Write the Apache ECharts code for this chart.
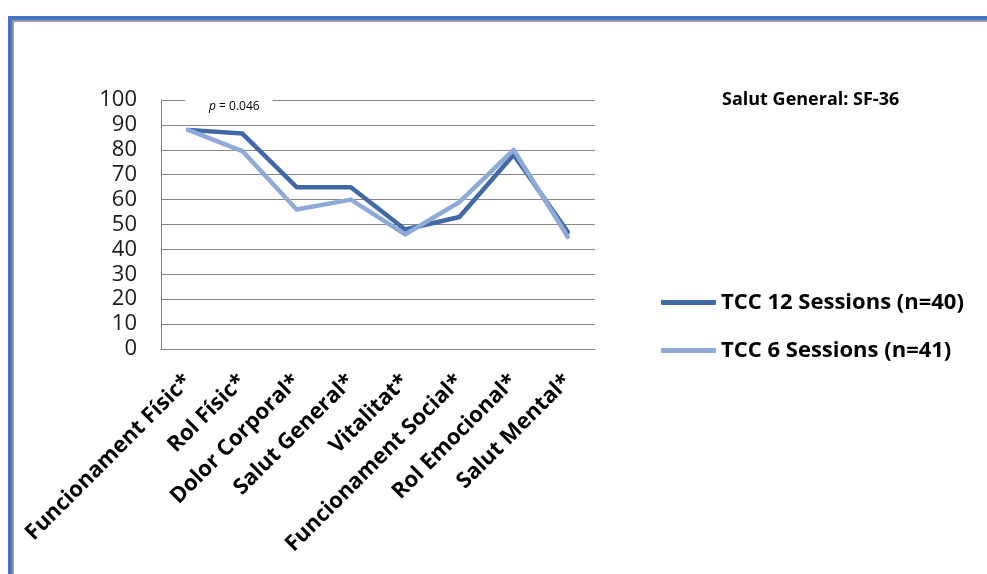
<!DOCTYPE html>
<html>
<head>
<meta charset="utf-8">
<script src="https://cdn.jsdelivr.net/npm/echarts@6/dist/echarts.min.js"></script>
<style>
html,body{margin:0;padding:0;background:#fff;overflow:hidden;}
#chart{width:987px;height:574px;}
</style>
</head>
<body>
<div id="chart"></div>
<script>
var categories = ['Funcionament Físic*', 'Rol Físic*', 'Dolor Corporal*', 'Salut General*', 'Vitalitat*', 'Funcionament Social*', 'Rol Emocional*', 'Salut Mental*'];
var seriesNames = ['TCC 12 Sessions (n=40)', 'TCC 6 Sessions (n=41)'];
var tcc12 = [88, 86.5, 65, 65, 48, 53, 78, 47];
var tcc6 = [88, 79.5, 56, 60, 46, 59, 80, 45];
var titleText = 'Salut General: SF-36';
var pValueText = '= 0.046';

var chart = echarts.init(document.getElementById('chart'), null, {renderer: 'canvas'});
var option = {
  backgroundColor: '#fff',
  animation: false,
  title: [
    {
      text: titleText,
      left: 722, top: 91,
      padding: 0,
      textStyle: {fontFamily: 'Open Sans', fontWeight: 'bold', fontSize: 18, color: '#000'}
    },
    {
      text: '{i|p} ' + pValueText,
      left: 185, top: 98,
      padding: [3, 13, 3, 24],
      backgroundColor: '#fff',
      textStyle: {
        fontFamily: 'Open Sans', fontSize: 12, color: '#000', fontWeight: 'normal',
        rich: {i: {fontFamily: 'Open Sans', fontSize: 12, fontStyle: 'italic', color: '#000'}}
      }
    }
  ],
  legend: {
    orient: 'vertical',
    left: 661, top: 290,
    padding: 0,
    itemWidth: 55, itemHeight: 5,
    itemGap: 23,
    itemTextGap: 3,
    icon: 'roundRect',
    data: seriesNames,
    textStyle: {fontFamily: 'Open Sans', fontWeight: 'bold', fontSize: 22, color: '#000', lineHeight: 25}
  },
  grid: {left: 161, top: 100, right: 392, bottom: 225, containLabel: false},
  xAxis: {
    type: 'category',
    data: categories,
    boundaryGap: true,
    axisLine: {show: true, lineStyle: {color: '#868686', width: 1}},
    axisTick: {show: false},
    axisLabel: {
      rotate: 45, margin: 29, interval: 0,
      fontFamily: 'Open Sans', fontWeight: 'bold', fontSize: 22, color: '#000'
    },
    splitLine: {show: false}
  },
  yAxis: {
    type: 'value',
    min: 0, max: 100, interval: 10,
    axisLine: {show: true, lineStyle: {color: '#868686', width: 1}},
    axisTick: {show: false},
    axisLabel: {margin: 24, fontFamily: 'Open Sans', fontSize: 22, color: '#1a1a1a'},
    splitLine: {show: true, lineStyle: {color: '#868686', width: 1}}
  },
  series: [
    {
      name: seriesNames[0], type: 'line', data: tcc12,
      symbol: 'none', smooth: false,
      lineStyle: {color: '#4069a5', width: 4.5, cap: 'round', join: 'round'},
      itemStyle: {color: '#4069a5'},
      z: 2
    },
    {
      name: seriesNames[1], type: 'line', data: tcc6,
      symbol: 'none', smooth: false,
      lineStyle: {color: '#8eaad6', width: 4.5, cap: 'round', join: 'round'},
      itemStyle: {color: '#8eaad6'},
      z: 3
    }
  ],
  graphic: [
    {type: 'rect', shape: {x: 8, y: 16, width: 979, height: 4}, style: {fill: '#4472c4'}, silent: true},
    {type: 'rect', shape: {x: 8, y: 16, width: 4, height: 558}, style: {fill: '#4472c4'}, silent: true},
    {type: 'rect', shape: {x: 12, y: 20, width: 975, height: 2}, style: {fill: '#9a9a9a'}, silent: true},
    {type: 'rect', shape: {x: 12, y: 20, width: 2, height: 554}, style: {fill: '#9a9a9a'}, silent: true}
  ]
};
chart.setOption(option);
</script>
</body>
</html>
